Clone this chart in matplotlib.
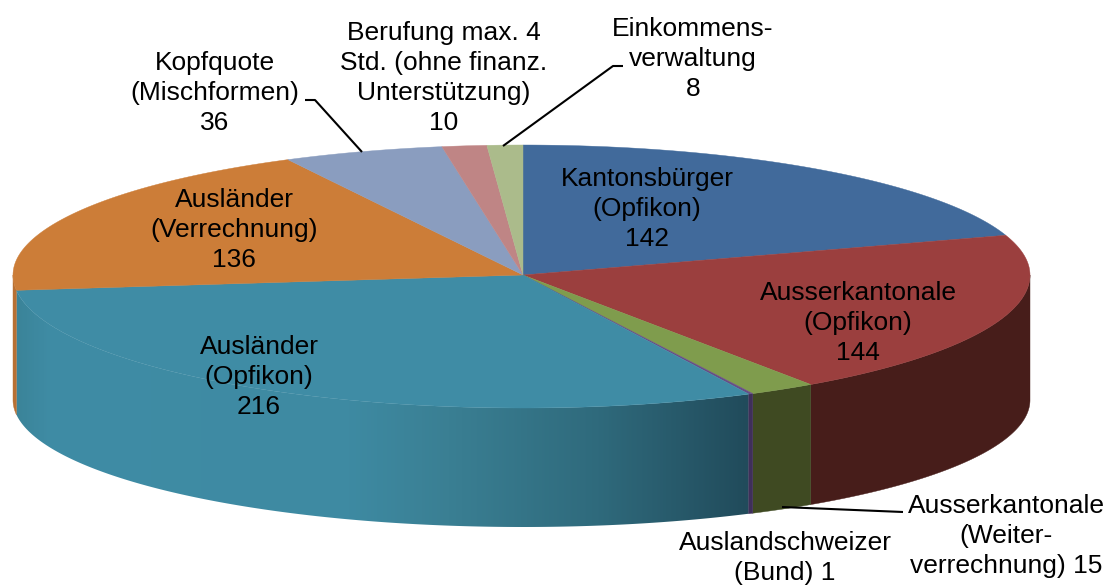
#!/usr/bin/env python3
"""3D look pie of case counts, drawn as projected polygons on a pixel-sized axes."""
import matplotlib
matplotlib.use("Agg")
import matplotlib.pyplot as plt
import numpy as np
from matplotlib.colors import LinearSegmentedColormap, Normalize

# clockwise from 12 o'clock
CATEGORIES = ["Kantonsbürger\n(Opfikon)", "Ausserkantonale\n(Opfikon)",
              "Ausserkantonale\n(Weiter-\nverrechnung)", "Auslandschweizer\n(Bund)",
              "Ausländer\n(Opfikon)", "Ausländer\n(Verrechnung)",
              "Kopfquote\n(Mischformen)", "Berufung max. 4\nStd. (ohne finanz.\nUnterstützung)",
              "Einkommens-\nverwaltung"]
VALUES = [142, 144, 15, 1, 216, 136, 36, 10, 8]
VALUE_SEPS = ["\n", "\n", " ", " ", "\n", "\n", "\n", "\n", "\n"]

TOP_COLORS = ["#416a9b", "#9b3f3e", "#7f9c4d", "#674e85", "#3f8ca5",
              "#cc7d38", "#8a9dbf", "#bf8585", "#abbb8b"]
SIDE_COLORS = ["#2a4468", "#471d1a", "#3f4a22", "#3f2f5a", None,
               "#b87033", "#6a7a98", "#8f6060", "#7f8c66"]
TEAL_X = [15, 50, 350, 450, 600, 750]
TEAL_SHADES = ["#3b8499", "#3f8ca5", "#3e8aa2", "#3a7f93", "#2f6a7c", "#214b5b"]

LABEL_POS = [(647, 209), (858, 323), (1006, 536), (785, 558), (259, 377),
             (234, 230), (215, 93), (444, 78), (693, 59)]
LEADERS = [([305, 315, 362], [100, 100, 152]),
           ([623, 613, 503], [66, 66, 146]),
           ([903, 782], [512, 507])]

CX, CY_TOP, CY_BOT = 523, 275, 400


def rim_x(deg):
    s = np.sin(np.radians(deg))
    return CX + np.where(s >= 0, 507, 510) * s


def top_y(deg):
    c = np.cos(np.radians(deg))
    return CY_TOP - np.where(c >= 0, 130, 133) * c


def bot_y(deg):
    return CY_BOT - 127 * np.cos(np.radians(deg))


def main():
    fig = plt.figure(figsize=(11.09, 5.85), dpi=100)
    ax = fig.add_axes([0, 0, 1, 1])
    ax.axis("off")

    edges = np.cumsum([0] + VALUES) / sum(VALUES) * 360
    x0, x1 = TEAL_X[0], TEAL_X[-1]
    stops = [(x - x0) / (x1 - x0) for x in TEAL_X]
    teal_cmap = LinearSegmentedColormap.from_list("teal_side", list(zip(stops, TEAL_SHADES)))

    # rim first, only the part facing the viewer
    for i in range(len(VALUES)):
        a0, a1 = max(edges[i], 90), min(edges[i + 1], 270)
        if a1 <= a0:
            continue
        t = np.linspace(a0, a1, 200)
        xs = np.r_[rim_x(t), rim_x(t)[::-1]]
        ys = np.r_[top_y(t), bot_y(t)[::-1]]
        if SIDE_COLORS[i] is None:
            poly = ax.fill(xs, ys, facecolor="none", edgecolor="none")[0]
            grad = np.linspace(x0 - 10, x1 + 10, 400)[None, :]
            im = ax.imshow(grad, cmap=teal_cmap, norm=Normalize(x0, x1), aspect="auto",
                           extent=(x0 - 10, x1 + 10, 540, 280), interpolation="bilinear")
            im.set_clip_path(poly)
        else:
            ax.fill(xs, ys, facecolor=SIDE_COLORS[i], edgecolor=SIDE_COLORS[i], lw=0.3)

    # top face
    for i in range(len(VALUES)):
        t = np.linspace(edges[i], edges[i + 1], max(int(edges[i + 1] - edges[i]) * 2, 3))
        xs = np.r_[CX, rim_x(t)]
        ys = np.r_[CY_TOP, top_y(t)]
        ax.fill(xs, ys, facecolor=TOP_COLORS[i], edgecolor=TOP_COLORS[i], lw=0.3)

    for xs, ys in LEADERS:
        ax.plot(xs, ys, color="black", lw=1.5, solid_capstyle="butt")

    for name, val, sep, (x, y) in zip(CATEGORIES, VALUES, VALUE_SEPS, LABEL_POS):
        ax.text(x, y, f"{name}{sep}{val}", ha="center", va="center", fontsize=19,
                family="Liberation Sans", color="black", linespacing=1.33)

    ax.set_xlim(0, 1109)
    ax.set_ylim(585, 0)
    fig.savefig("out.png", dpi=100)


if __name__ == "__main__":
    main()
